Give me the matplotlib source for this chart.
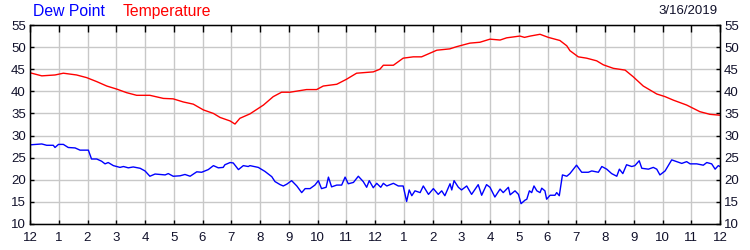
import numpy as np
import matplotlib
matplotlib.use('Agg')
import matplotlib.pyplot as plt

# hours since midnight, temperature readings (F)
temp_hours = [0.0, 0.41, 0.87, 1.16, 1.62, 1.97, 2.32, 2.67, 3.02, 3.36, 3.71,
              4.17, 4.64, 4.98, 5.33, 5.68, 6.03, 6.38, 6.61, 6.96, 7.13, 7.30,
              7.65, 8.12, 8.46, 8.75, 9.04, 9.62, 9.97, 10.2, 10.67, 11.0, 11.36,
              11.94, 12.17, 12.29, 12.64, 12.98, 13.33, 13.62, 14.15, 14.6, 14.84,
              15.3, 15.65, 16.0, 16.35, 16.58, 17.04, 17.2, 17.4, 17.74, 18.03,
              18.43, 18.67, 18.78, 19.07, 19.36, 19.71, 19.94, 20.29, 20.7, 20.98,
              21.33, 21.8, 22.09, 22.38, 22.84, 23.3, 23.65, 24.0]
temp_vals = [44.2, 43.5, 43.7, 44.1, 43.7, 43.1, 42.2, 41.2, 40.5, 39.7, 39.1,
             39.1, 38.4, 38.3, 37.6, 37.1, 35.8, 35.0, 34.1, 33.3, 32.6, 33.9,
             34.9, 36.9, 38.8, 39.8, 39.8, 40.4, 40.4, 41.2, 41.6, 42.7, 44.1,
             44.4, 45.0, 45.9, 45.9, 47.5, 47.8, 47.8, 49.3, 49.6, 50.1,
             50.9, 51.1, 51.8, 51.6, 52.1, 52.5, 52.2, 52.5, 52.9, 52.2,
             51.5, 50.3, 49.2, 47.8, 47.5, 46.9, 46.0, 45.2, 44.8, 43.3,
             41.2, 39.4, 38.8, 38.0, 36.9, 35.4, 34.8, 34.6]

# hours since midnight, dew point readings (F)
dew_hours = [0.0, 0.23, 0.41, 0.58, 0.81, 0.87, 0.99, 1.16, 1.33, 1.57, 1.74,
             1.86, 2.03, 2.14, 2.32, 2.49, 2.61, 2.72, 2.9, 3.13, 3.25, 3.42,
             3.59, 3.83, 4.0, 4.17, 4.35, 4.52, 4.70, 4.81, 4.98, 5.22, 5.39,
             5.57, 5.80, 5.97, 6.20, 6.38, 6.55, 6.72, 6.78, 6.96, 7.07, 7.25,
             7.42, 7.59, 7.65, 7.94, 8.17, 8.41, 8.52, 8.7, 8.81, 8.93, 9.1,
             9.28, 9.45, 9.57, 9.74, 9.91, 10.03, 10.14, 10.3, 10.38, 10.49,
             10.67, 10.84, 10.96, 11.07, 11.25, 11.42, 11.59, 11.71, 11.8, 11.94,
             12.06, 12.2, 12.29, 12.41, 12.64, 12.81, 12.98, 13.1, 13.19, 13.28,
             13.39, 13.57, 13.68, 13.86, 14.03, 14.2, 14.32, 14.43, 14.61, 14.67,
             14.75, 14.9, 15.01, 15.19, 15.36, 15.59, 15.71, 15.88, 16.0, 16.17,
             16.35, 16.46, 16.64, 16.7, 16.87, 16.99, 17.08, 17.22, 17.28, 17.37,
             17.45, 17.53, 17.63, 17.74, 17.80, 17.91, 17.97, 18.09, 18.26, 18.32,
             18.41, 18.52, 18.67, 18.78, 19.01, 19.19, 19.42, 19.54, 19.77, 19.89,
             20.06, 20.23, 20.41, 20.5, 20.62, 20.75, 20.93, 21.04, 21.19, 21.28,
             21.51, 21.68, 21.8, 21.91, 22.09, 22.32, 22.49, 22.67, 22.84, 22.96,
             23.19, 23.42, 23.54, 23.71, 23.83, 23.94, 24.0]
dew_vals = [27.9, 28.0, 28.1, 27.8, 27.8, 27.3, 28.0, 28.0, 27.3, 27.2, 26.7,
            26.7, 26.7, 24.7, 24.7, 24.2, 23.6, 23.9, 23.2, 22.8, 23.0, 22.7,
            22.9, 22.6, 22.0, 20.8, 21.3, 21.2, 21.1, 21.4, 20.8, 20.9, 21.2,
            20.8, 21.8, 21.7, 22.3, 23.2, 22.7, 22.8, 23.4, 23.9, 23.8, 22.3,
            23.2, 23.0, 23.2, 22.8, 21.9, 20.7, 19.6, 18.9, 18.6, 19.0, 19.8,
            18.6, 17.1, 18.0, 18.0, 18.8, 19.8, 18.0, 18.3, 20.6, 18.4,
            18.8, 18.8, 20.6, 19.1, 19.4, 20.8, 19.6, 18.3, 19.8, 18.2,
            19.2, 18.3, 19.2, 18.6, 19.2, 18.6, 18.6, 15.1, 17.7, 16.4,
            17.5, 17.1, 18.6, 16.7, 18.0, 16.7, 17.5, 16.4, 19.1, 17.7,
            19.8, 18.3, 17.7, 18.6, 16.7, 18.9, 16.5, 18.9, 18.3, 16.1,
            17.9, 17.1, 18.3, 16.6, 17.5, 16.7, 14.6, 15.4, 15.6, 17.5,
            17.1, 18.6, 17.5, 17.1, 18.1, 17.5, 15.6, 16.5, 16.5, 17.1,
            16.4, 21.1, 20.8, 21.4, 23.3, 21.7, 21.7, 22.0, 21.7, 23.0,
            22.4, 21.4, 20.8, 22.4, 21.4, 23.4, 23.0, 23.2, 24.3, 22.6,
            22.4, 22.8, 22.4, 21.1, 22.0, 24.5, 24.1, 23.7, 24.1, 23.6,
            23.6, 23.3, 23.9, 23.6, 22.4, 23.2, 23.0]

hour_labels = ['12', '1', '2', '3', '4', '5', '6', '7', '8', '9', '10', '11',
               '12', '1', '2', '3', '4', '5', '6', '7', '8', '9', '10', '11', '12']
y_ticks = [10, 15, 20, 25, 30, 35, 40, 45, 50, 55]
date_text = '3/16/2019'

plt.rcParams['font.family'] = ['Liberation Sans', 'DejaVu Sans']

fig = plt.figure(figsize=(7.5, 2.5), dpi=100)
ax = fig.add_axes([0.04, 0.104, 0.92, 0.796])

ax.plot(temp_hours, temp_vals, color='#ff0000', lw=1)
ax.plot(dew_hours, dew_vals, color='#0000ff', lw=1)

ax.set_xlim(0, 24)
ax.set_ylim(10, 55)
ax.set_xticks(np.arange(25))
ax.set_xticklabels(hour_labels)
ax.set_yticks(y_ticks)
ax.grid(True, color='#c8c8c8', lw=1)
ax.set_axisbelow(True)

# bottom: short inward ticks with labels
ax.tick_params(axis='x', bottom=True, top=False, direction='in', length=3,
               labelsize=9.5, pad=6, width=1, labelcolor='#10102a')
ax.tick_params(axis='y', left=True, right=True, direction='in', length=3, width=1,
               labelleft=True, labelright=True, labelsize=9.5, pad=3,
               labelcolor='#10102a')
for s in ax.spines.values():
    s.set_color('black')
    s.set_linewidth(1)

# top: longer inward ticks, no labels
axt = ax.twiny()
axt.set_xlim(ax.get_xlim())
axt.set_xticks(np.arange(25))
axt.tick_params(axis='x', top=True, direction='in', length=5, width=1, labeltop=False)

fig.text(0.044, 0.955, 'Dew Point', color='#0000ff', fontsize=11.3, va='center')
fig.text(0.164, 0.955, 'Temperature', color='#ff0000', fontsize=11.3, va='center')
fig.text(0.957, 0.955, date_text, color='#10102a', fontsize=9.5, va='center', ha='right')

fig.savefig('out.png', dpi=100)
